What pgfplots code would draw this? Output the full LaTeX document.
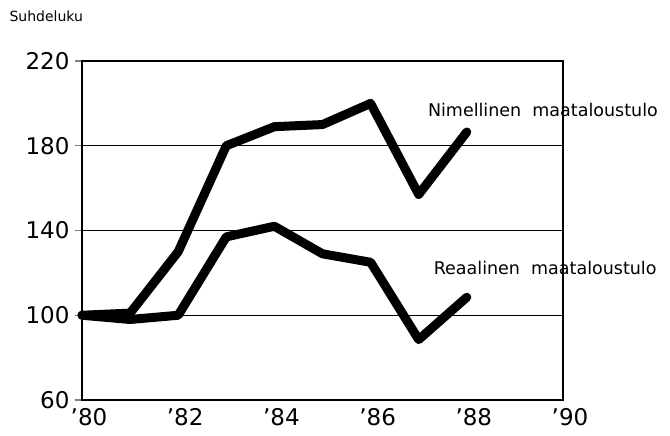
\documentclass[border=0pt]{standalone}
\usepackage{fontspec}
\setmainfont{DejaVu Sans}
\usepackage{pgfplots}
\pgfplotsset{compat=1.18}
\begin{document}
\begin{tikzpicture}
\begin{axis}[
  scale only axis,
  width=481pt, height=339pt,
  xmin=80, xmax=90, ymin=60, ymax=220,
  xtick={80,82,84,86,88,90},
  xticklabels={'80,'82,'84,'86,'88,'90},
  ytick={60,100,140,180,220},
  ytick pos=left,
  /pgf/number format/assume math mode=true,
  ticklabel style={font=\fontsize{23}{26}\selectfont},
  xticklabel style={xshift=7pt, yshift=2pt},
  yticklabel style={xshift=-2pt},
  tick align=outside,
  major tick length=7pt,
  xtick style={draw=none},
  ytick style={line width=1.2pt},
  ymajorgrids,
  grid style={black, line width=1.1pt},
  axis line style={line width=1.4pt},
  clip=false,
]
\addplot[black, line width=9pt, line join=round, line cap=round] coordinates {
 (80,100) (81,101) (82,130) (83,180) (84,189) (85,190) (86,200) (87,157) (88,186.5)};
\addplot[black, line width=9pt, line join=round, line cap=round] coordinates {
 (80,100) (81,98) (82,100) (83,137) (84,142) (85,129) (86,125) (87,88.5) (88,108.5)};
\node[anchor=west, font=\fontsize{17.5}{20}\selectfont] at (axis cs:87.12,197) {Nimellinen\ \ maataloustulo};
\node[anchor=west, font=\fontsize{17.5}{20}\selectfont] at (axis cs:87.24,122.3) {Reaalinen\ \ maataloustulo};
\node[anchor=west, font=\fontsize{14}{16}\selectfont] at (rel axis cs:0,1) [xshift=-76pt, yshift=45pt] {Suhdeluku};
\coordinate (sw) at (rel axis cs:0,0);
\coordinate (ne) at (rel axis cs:1,1);
\end{axis}
\path ([shift={(-82pt,-36pt)}]sw) rectangle ([shift={(107pt,61pt)}]ne);
\end{tikzpicture}
\end{document}
